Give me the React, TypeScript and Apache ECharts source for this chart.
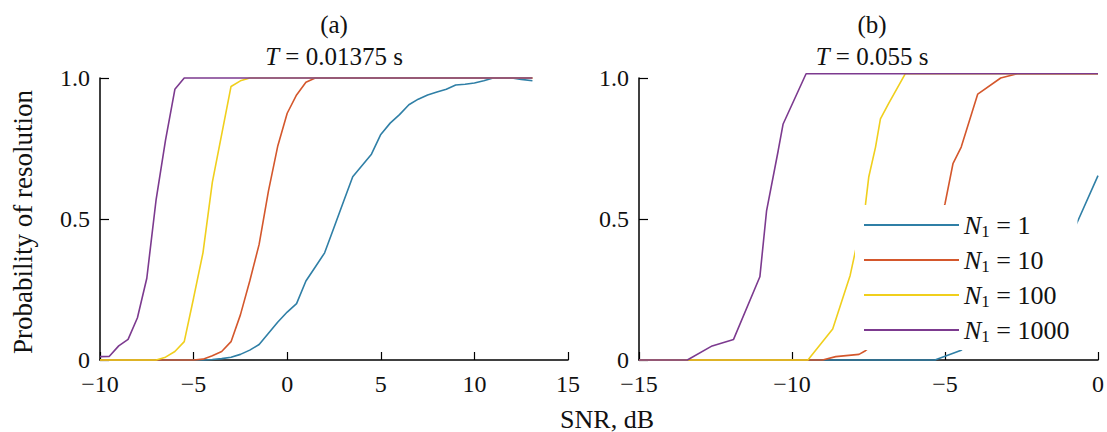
import React, { useEffect, useRef } from "react";
import * as echarts from "echarts";

// ---------- data ----------
const seriesNames = ["N1 = 1", "N1 = 10", "N1 = 100", "N1 = 1000"];
const legendCounts = ["1", "10", "100", "1000"];
const colors = ["#2f7fa6", "#d4572c", "#f0cf1c", "#7c3a8f"];
const panelLetters = ["(a)", "(b)"];
const panelDurations = ["0.01375", "0.055"];
const yTicks = [0, 0.5, 1];

// Panel (a): T = 0.01375 s
const aSnr1 = [-10, -4.5, -4, -3.5, -3, -2.5, -2, -1.5, -1, -0.5, 0, 0.5, 1, 1.5, 2, 2.5, 3, 3.5, 4, 4.5, 5, 5.5, 6, 6.5, 7, 7.5, 8, 8.5, 9, 9.5, 10, 10.5, 11, 11.5, 12, 12.5, 13.1];
const aP1 = [0, 0, 0.002, 0.005, 0.01, 0.02, 0.035, 0.055, 0.095, 0.135, 0.17, 0.2, 0.28, 0.33, 0.38, 0.47, 0.56, 0.65, 0.69, 0.73, 0.8, 0.84, 0.87, 0.905, 0.925, 0.94, 0.95, 0.96, 0.975, 0.978, 0.982, 0.99, 1, 1, 1, 0.995, 0.99];
const aSnr10 = [-10, -5, -4.5, -4, -3.5, -3, -2.5, -2, -1.5, -1, -0.5, 0, 0.5, 1, 1.5, 13.1];
const aP10 = [0, 0, 0.003, 0.015, 0.03, 0.065, 0.16, 0.28, 0.41, 0.6, 0.76, 0.875, 0.94, 0.985, 1, 1];
const aSnr100 = [-10, -7, -6.5, -6, -5.5, -5, -4.5, -4, -3.5, -3, -2.5, -2, 13.1];
const aP100 = [0, 0, 0.01, 0.03, 0.065, 0.22, 0.38, 0.63, 0.8, 0.97, 0.99, 1, 1];
const aSnr1000 = [-10, -9.5, -9, -8.5, -8, -7.5, -7, -6.5, -6, -5.5, 13.1];
const aP1000 = [0.012, 0.013, 0.05, 0.073, 0.15, 0.29, 0.57, 0.78, 0.96, 1, 1];

// Panel (b): T = 0.055 s
const bSnr1 = [-15, -5.33, -4.47, -3.7, -2.9, -2.1, -1.4, -0.92, -0.7, 0];
const bP1 = [0, 0, 0.035, 0.1, 0.2, 0.3, 0.39, 0.454, 0.483, 0.654];
const bSnr10 = [-15, -9.0, -8.57, -7.81, -7.6, -6.8, -6.0, -5.3, -5.0, -4.74, -4.47, -3.93, -3.18, -2.64, 0];
const bP10 = [0, 0, 0.012, 0.02, 0.033, 0.1, 0.25, 0.45, 0.554, 0.696, 0.755, 0.943, 1.0, 1.015, 1.015];
const bSnr100 = [-15, -9.48, -8.67, -8.1, -7.6, -7.49, -7.27, -7.11, -6.84, -6.3, 0];
const bP100 = [0, 0, 0.11, 0.3, 0.55, 0.65, 0.755, 0.855, 0.91, 1.015, 1.015];
const bSnr1000 = [-15, -13.42, -12.61, -11.91, -11.05, -10.83, -10.45, -10.29, -9.54, 0];
const bP1000 = [0, 0, 0.05, 0.073, 0.295, 0.53, 0.743, 0.837, 1.015, 1.015];

const panelA = [[aSnr1, aP1], [aSnr10, aP10], [aSnr100, aP100], [aSnr1000, aP1000]];
const panelB = [[bSnr1, bP1], [bSnr10, bP10], [bSnr100, bP100], [bSnr1000, bP1000]];

const FONT = "Liberation Serif";

const zip = (xs: number[], ys: number[]) => xs.map((x, i) => [x, ys[i]]);
const minus = (v: number) => String(v).replace("-", "\u2212");

function makeXAxis(idx: number, min: number, max: number) {
  return {
    type: "value",
    gridIndex: idx,
    min,
    max,
    interval: 5,
    axisLine: { onZero: false, lineStyle: { color: "#000", width: 1.5 } },
    axisTick: { inside: true, length: 8, lineStyle: { color: "#000", width: 1.2 } },
    axisLabel: {
      margin: 14,
      color: "#111",
      fontFamily: FONT,
      fontSize: 24,
      lineHeight: 20,
      formatter: (v: number) => minus(v),
    },
    splitLine: { show: false },
  };
}

function makeYAxis(idx: number) {
  return {
    type: "value",
    gridIndex: idx,
    min: yTicks[0],
    max: yTicks[yTicks.length - 1],
    interval: 0.5,
    axisLine: { show: true, onZero: false, lineStyle: { color: "#000", width: 1.5 } },
    axisTick: { show: true, inside: true, length: 9, lineStyle: { color: "#000", width: 1.2 } },
    axisLabel: {
      margin: 10,
      color: "#111",
      fontFamily: FONT,
      fontSize: 24,
      lineHeight: 18,
      padding: [0, 0, 4, 0],
      formatter: (v: number) => (v === 0 ? "0" : v.toFixed(1)),
    },
    splitLine: { show: false },
  };
}

function makeSeries(panel: number[][][], axisIdx: number) {
  return panel.map(([xs, ys], i) => ({
    name: seriesNames[i],
    type: "line",
    xAxisIndex: axisIdx,
    yAxisIndex: axisIdx,
    data: zip(xs, ys),
    symbol: "none",
    clip: false,
    lineStyle: { color: colors[i], width: 1.6 },
    itemStyle: { color: colors[i] },
    z: 2 + i,
  }));
}

const titleText = (i: number, x: number) => [
  {
    type: "text",
    x,
    y: 24,
    style: {
      text: panelLetters[i],
      fontFamily: FONT,
      fontSize: 25,
      fill: "#111",
      textAlign: "center",
      textVerticalAlign: "middle",
    },
  },
  {
    type: "text",
    x,
    y: 56,
    style: {
      text: `{i|T}{r| = ${panelDurations[i]} s}`,
      fontFamily: FONT,
      fontSize: 25,
      fill: "#111",
      textAlign: "center",
      textVerticalAlign: "middle",
      rich: {
        i: { fontFamily: FONT, fontSize: 25, fontStyle: "italic", fill: "#111" },
        r: { fontFamily: FONT, fontSize: 25, fill: "#111" },
      },
    },
  },
];

export default function App() {
  const ref = useRef<HTMLDivElement>(null);

  useEffect(() => {
    if (!ref.current) return;
    const chart = echarts.init(ref.current, null, { renderer: "svg" });
    const legendMap: Record<string, string> = {};
    seriesNames.forEach((n, i) => {
      legendMap[n] = `{n|N}{s|1}{t| = ${legendCounts[i]}}`;
    });
    chart.setOption({
      animation: false,
      backgroundColor: "#fff",
      textStyle: { fontFamily: FONT },
      grid: [
        { left: 100, right: 1107 - 568, top: 78, bottom: 72, containLabel: false },
        { left: 639, right: 4, top: 78, bottom: 72, containLabel: false },
      ],
      xAxis: [makeXAxis(0, -10, 15), makeXAxis(1, -15, 0)],
      yAxis: [makeYAxis(0), makeYAxis(1)],
      legend: {
        data: seriesNames,
        orient: "vertical",
        left: 855,
        top: 205,
        padding: [5, 8, 5, 8],
        itemWidth: 95,
        itemHeight: 14,
        itemGap: 5,
        backgroundColor: "#fff",
        selectedMode: false,
        z: 20,
        itemStyle: { opacity: 0 },
        formatter: (name: string) => legendMap[name],
        textStyle: {
          fontFamily: FONT,
          fontSize: 26,
          color: "#111",
          lineHeight: 30,
          rich: {
            n: { fontFamily: FONT, fontSize: 26, fontStyle: "italic", color: "#111", lineHeight: 30 },
            s: { fontFamily: FONT, fontSize: 17, color: "#111", verticalAlign: "bottom", lineHeight: 17 },
            t: { fontFamily: FONT, fontSize: 26, color: "#111", lineHeight: 30 },
          },
        },
      },
      series: [...makeSeries(panelA, 0), ...makeSeries(panelB, 1)],
      graphic: [
        ...titleText(0, 334),
        ...titleText(1, 872),
        {
          type: "text",
          x: 23,
          y: 222,
          rotation: Math.PI / 2,
          style: {
            text: "Probability of resolution",
            fontFamily: FONT,
            fontSize: 27,
            fill: "#111",
            textAlign: "center",
            textVerticalAlign: "middle",
          },
        },
        {
          type: "text",
          x: 607,
          y: 419,
          style: {
            text: "SNR, dB",
            fontFamily: FONT,
            fontSize: 26,
            fill: "#111",
            textAlign: "center",
            textVerticalAlign: "middle",
          },
        },
      ],
    });
    return () => chart.dispose();
  }, []);

  return (
    <div
      ref={ref}
      style={{ position: "fixed", left: 0, top: 0, width: 1107, height: 432, background: "#fff" }}
    />
  );
}
